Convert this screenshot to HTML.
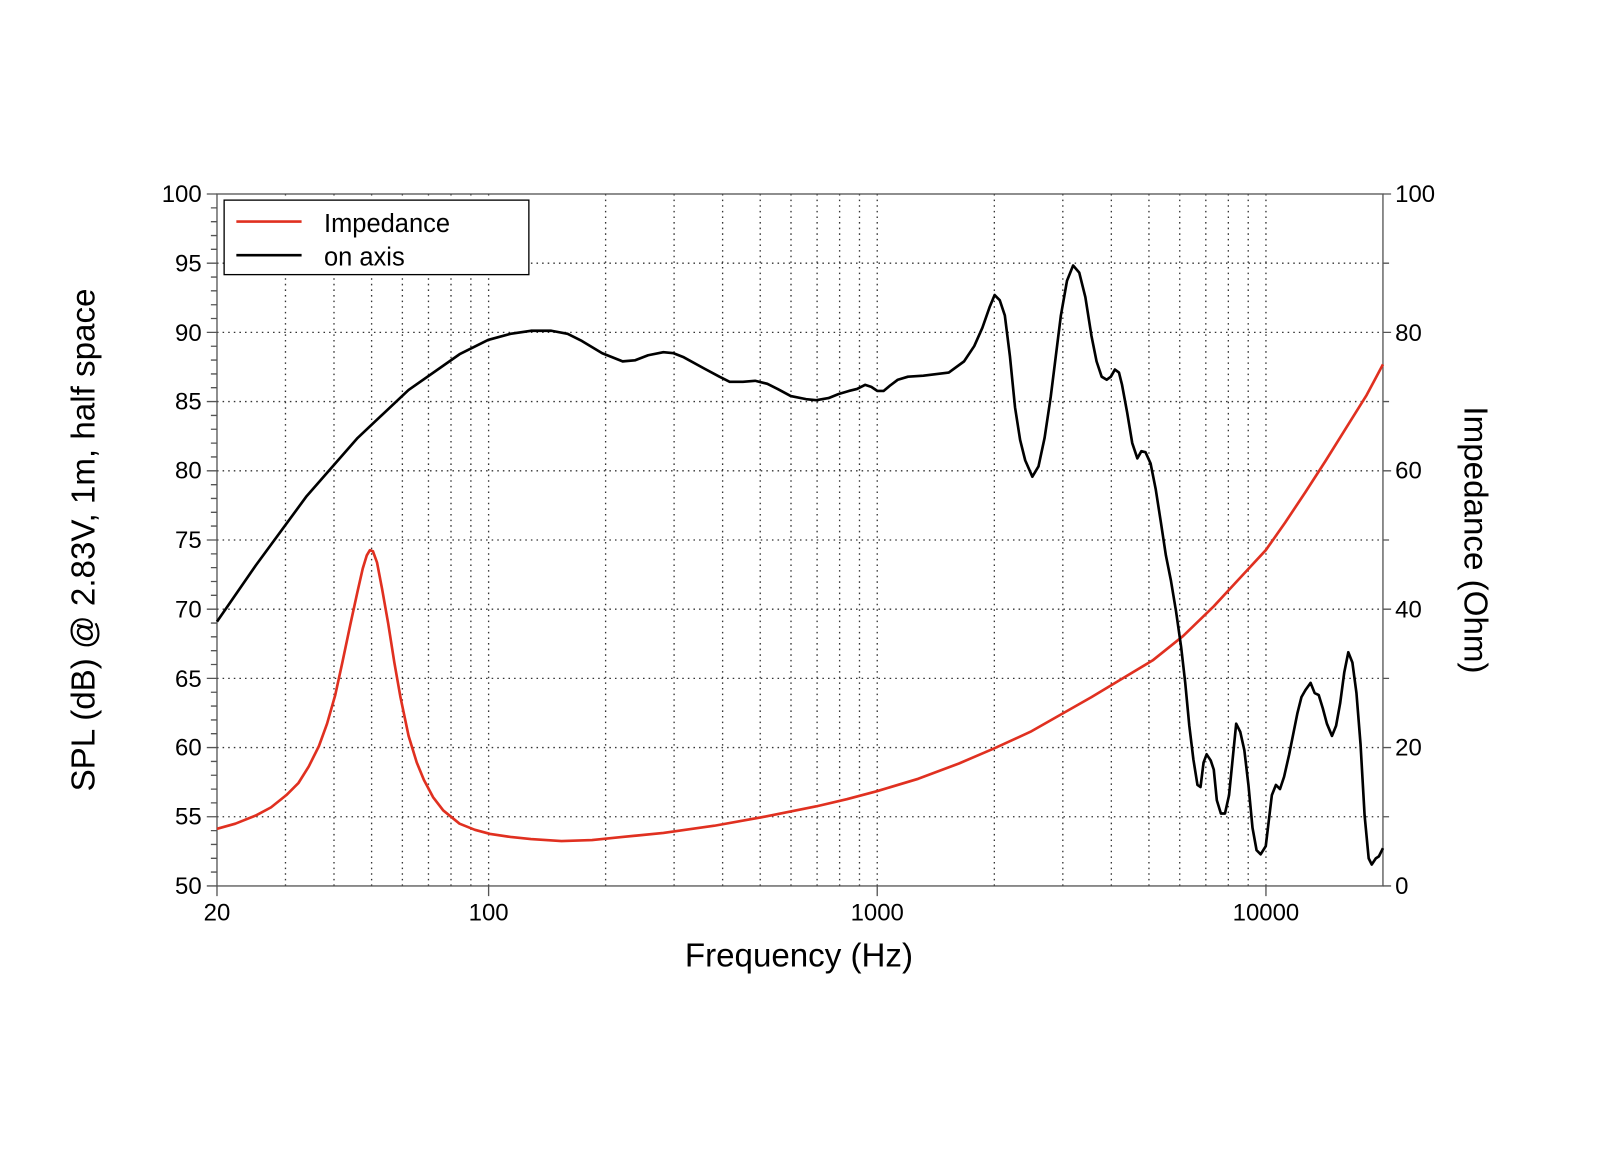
<!DOCTYPE html>
<html><head><meta charset="utf-8"><style>html,body{margin:0;padding:0;background:#fff}svg{display:block}</style></head>
<body>
<svg width="1600" height="1150" viewBox="0 0 1600 1150" xmlns="http://www.w3.org/2000/svg" font-family="'Liberation Sans', Arial, sans-serif">
<rect width="1600" height="1150" fill="#fff"/>
<g transform="matrix(1.0192 0 0 1.0206 0.92 -0.94)">
<g stroke="#333" stroke-width="1.3" stroke-dasharray="1.5 4" fill="none">
<path d="M212 258.8H1356M212 326.6H1356M212 394.4H1356M212 462.2H1356M212 530H1356M212 597.8H1356M212 665.6H1356M212 733.4H1356M212 801.2H1356"/>
<path d="M279.2 191V869M326.8 191V869M363.7 191V869M393.9 191V869M419.5 191V869M441.6 191V869M461.1 191V869M478.5 191V869M593.3 191V869M660.5 191V869M708.1 191V869M745 191V869M775.2 191V869M800.8 191V869M822.9 191V869M842.4 191V869M859.8 191V869M974.7 191V869M1041.9 191V869M1089.5 191V869M1126.4 191V869M1156.6 191V869M1182.2 191V869M1204.3 191V869M1223.8 191V869M1241.2 191V869"/>
</g>
<g stroke="#555" stroke-width="1.3" fill="none">
<rect x="212" y="191" width="1144" height="678"/>
<path d="M202 191H212M202 258.8H212M202 326.6H212M202 394.4H212M202 462.2H212M202 530H212M202 597.8H212M202 665.6H212M202 733.4H212M202 801.2H212M202 869H212"/>
<path d="M206 204.6H212M206 218.1H212M206 231.7H212M206 245.2H212M206 272.4H212M206 285.9H212M206 299.5H212M206 313H212M206 340.2H212M206 353.7H212M206 367.3H212M206 380.8H212M206 408H212M206 421.5H212M206 435.1H212M206 448.6H212M206 475.8H212M206 489.3H212M206 502.9H212M206 516.4H212M206 543.6H212M206 557.1H212M206 570.7H212M206 584.2H212M206 611.4H212M206 624.9H212M206 638.5H212M206 652H212M206 679.2H212M206 692.7H212M206 706.3H212M206 719.8H212M206 747H212M206 760.5H212M206 774.1H212M206 787.6H212M206 814.8H212M206 828.3H212M206 841.9H212M206 855.4H212"/>
<path d="M1356 191H1364M1356 258.8H1362M1356 326.6H1364M1356 394.4H1362M1356 462.2H1364M1356 530H1362M1356 597.8H1364M1356 665.6H1362M1356 733.4H1364M1356 801.2H1362M1356 869H1364"/>
<path d="M212 869V879M478.5 869V879M859.8 869V879M1241.2 869V879"/>
</g>
<polyline fill="none" stroke="#e03020" stroke-width="2.6" stroke-linejoin="round" points="212,813 230,808 250,800 265,792 280,780 292,768 302,752 312,732 320,710 328,682 335,650 343,612 350,580 355,558 359,545 362,540 365,541 369,552 374,578 380,612 386,650 392,684 400,722 408,748 415,765 424,782 434,795 450,808 465,814 480,818 500,821 520,823 550,825 580,824 610,821 650,817 700,810 750,801 800,791 830,784 860,776 900,764 940,749 975,734 1010,718 1040,701 1070,684 1100,666 1130,648 1160,624 1190,595 1215,568 1241,540 1260,513 1280,483 1300,452 1320,420 1340,388 1356,358"/>
<polyline fill="none" stroke="#000" stroke-width="2.6" stroke-linejoin="round" points="212,610 250,555 300,487 350,430 400,383 450,348 478,334 500,328 520,325 540,325 556,328 570,335 590,347 610,355 622,354 635,349 650,346 660,347 670,351 690,362 705,370 715,375 728,375 740,374 752,377 762,382 775,389 790,392 800,393 812,391 822,387 832,384 840,382 848,378 854,380 860,384 866,384 872,379 880,373 890,370 905,369 930,366 945,355 955,340 963,322 970,302 975,290 980,295 985,310 990,350 995,400 1000,432 1005,452 1012,468 1018,458 1024,430 1030,390 1035,350 1040,310 1046,276 1052,261 1058,268 1064,292 1070,330 1075,355 1080,370 1085,373 1089,370 1093,363 1097,366 1100,378 1105,405 1110,435 1115,450 1119,443 1123,444 1128,455 1133,480 1138,512 1143,545 1148,570 1153,600 1158,635 1162,670 1166,712 1170,745 1174,770 1177,772 1180,748 1183,740 1187,746 1190,755 1193,785 1197,798 1201,798 1205,780 1209,740 1212,710 1216,718 1220,736 1224,770 1228,812 1232,834 1236,838 1241,830 1244,805 1247,780 1251,770 1255,774 1259,762 1264,740 1268,720 1272,700 1276,684 1280,677 1285,670 1289,680 1293,682 1297,695 1301,710 1306,722 1310,712 1314,690 1318,660 1322,640 1326,650 1330,680 1334,730 1338,800 1342,842 1345,848 1349,842 1352,840 1356,832"/>
<rect x="219" y="197" width="299" height="73" fill="#fff" stroke="#000" stroke-width="1.3"/>
<line x1="231" y1="218" x2="295" y2="218" stroke="#e03020" stroke-width="2.6"/>
<line x1="231" y1="251" x2="295" y2="251" stroke="#000" stroke-width="2.6"/>
<g font-size="25" fill="#000">
<text x="317" y="228">Impedance</text>
<text x="317" y="261">on axis</text>
</g>
<g font-size="23.5" fill="#000" text-anchor="end">
<text x="197" y="199">100</text><text x="197" y="267">95</text><text x="197" y="335">90</text><text x="197" y="402">85</text><text x="197" y="470">80</text><text x="197" y="538">75</text><text x="197" y="606">70</text><text x="197" y="674">65</text><text x="197" y="741">60</text><text x="197" y="809">55</text><text x="197" y="877">50</text>
</g>
<g font-size="23.5" fill="#000">
<text x="1368" y="199">100</text><text x="1368" y="335">80</text><text x="1368" y="470">60</text><text x="1368" y="606">40</text><text x="1368" y="741">20</text><text x="1368" y="877">0</text>
</g>
<g font-size="23.5" fill="#000" text-anchor="middle">
<text x="212" y="903">20</text><text x="478.5" y="903">100</text><text x="859.8" y="903">1000</text><text x="1241.2" y="903">10000</text>
</g>
<text x="783" y="948" font-size="32.5" text-anchor="middle">Frequency (Hz)</text>
<text transform="translate(92,530) rotate(-90)" font-size="32.5" text-anchor="middle">SPL (dB) @ 2.83V, 1m, half space</text>
<text transform="translate(1436,530) rotate(90)" font-size="32.5" text-anchor="middle">Impedance (Ohm)</text>
</g>
</svg>
</body></html>
